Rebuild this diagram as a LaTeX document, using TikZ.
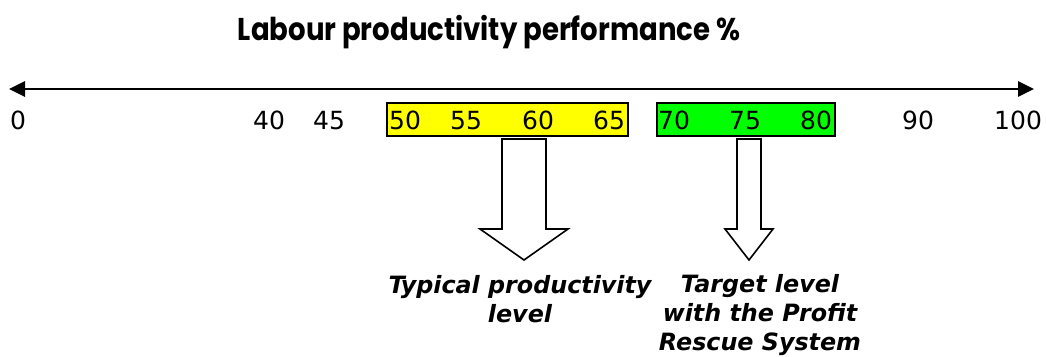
\documentclass[tikz,border=0pt]{standalone}
\usepackage{fontspec}
\setmainfont{DejaVu Sans}
\newfontfamily\titlefont{Poppins}
\usetikzlibrary{arrows.meta}
\definecolor{bandyellow}{RGB}{255,255,0}
\definecolor{bandgreen}{RGB}{0,255,0}
\begin{document}
\begin{tikzpicture}[x=1pt,y=-1pt,
  num/.style={anchor=base west,inner sep=0pt,font=\fontsize{25}{28}\selectfont},
  band/.style={draw=black,line width=1.6pt,inner sep=0pt,anchor=north west},
  hollow/.style={draw=black,line width=1.6pt,fill=white,line join=miter},
  caption/.style={align=center,inner sep=0pt,anchor=base,
    font=\fontsize{23.8}{29}\selectfont\bfseries\itshape}]
\useasboundingbox (0,0) rectangle (1046,356);

% title
\node[anchor=base,inner sep=0pt,font=\titlefont\fontsize{31.5}{36}\selectfont\bfseries]
  (title) at (489,40) {\scalebox{0.875}[1]{Labour productivity performance \%}};

% axis
\coordinate (axL) at (9,89);
\coordinate (axR) at (1034,89);
\draw[line width=2.8pt,{Triangle[length=16pt,width=15pt]}-{Triangle[length=16pt,width=15pt]}] (axL) -- (axR);

% highlighted bands
\node[band,fill=bandyellow,minimum width=241pt,minimum height=33pt] (yb) at (386,102) {};
\node[band,fill=bandgreen,minimum width=178pt,minimum height=33pt] (gb) at (656,102) {};

% scale values
\node[num] (n0) at (10,129) {0};
\node[num] (n40) at (253,129) {40};
\node[num] (n45) at (313,129) {45};
\node[num] (n50) at (389,129) {50};
\node[num] (n55) at (450,129) {55};
\node[num] (n60) at (522,129) {60};
\node[num] (n65) at (593,129) {65};
\node[num] (n70) at (658,129) {70};
\node[num] (n75) at (729,129) {75};
\node[num] (n80) at (800,129) {80};
\node[num] (n90) at (902,129) {90};
\node[num] (n100) at (994,129) {100};

% block arrows pointing at the captions
\draw[hollow] (502,139) -- (546,139) -- (546,229) -- (568,229) -- (524,260)
  -- (480,229) -- (502,229) -- cycle;
\draw[hollow] (737,139) -- (761,139) -- (761,229) -- (773,229) -- (749,260)
  -- (725,229) -- (737,229) -- cycle;

% captions (anchored at the baseline of their last line)
\node[caption] (typ) at (520,322) {Typical productivity\\level};
\node[caption] (tgt) at (760,350) {Target level\\with the Profit\\Rescue System};
\end{tikzpicture}
\end{document}
